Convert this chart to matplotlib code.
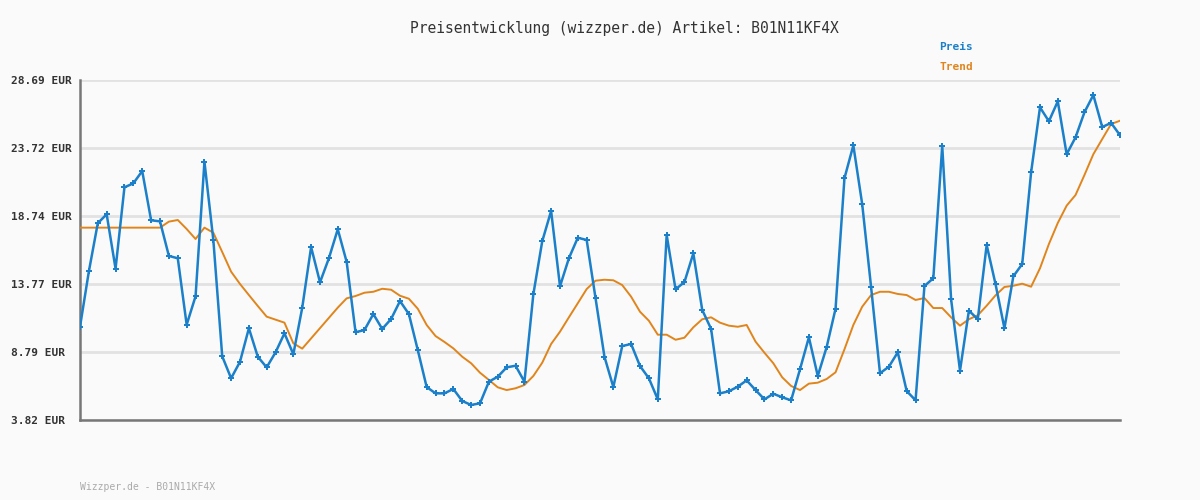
import numpy as np
import matplotlib
matplotlib.use("Agg")
import matplotlib.pyplot as plt

# price history (EUR), one value per sample
preis = [10.64, 14.70, 18.21, 18.87, 14.89, 20.84, 21.13, 22.03, 18.43, 18.35,
         15.82, 15.65, 10.79, 12.87, 22.71, 16.99, 8.48, 6.87, 8.08, 10.53,
         8.45, 7.67, 8.77, 10.16, 8.63, 12.03, 16.47, 13.89, 15.65, 17.77,
         15.38, 10.24, 10.40, 11.57, 10.48, 11.21, 12.52, 11.57, 8.94, 6.23,
         5.77, 5.77, 6.09, 5.21, 4.92, 5.04, 6.62, 6.99, 7.67, 7.79,
         6.62, 13.01, 16.89, 19.11, 13.60, 15.65, 17.15, 16.99, 12.72, 8.45,
         6.23, 9.23, 9.38, 7.77, 6.87, 5.33, 17.35, 13.38, 13.91, 16.01,
         11.87, 10.48, 5.77, 5.92, 6.26, 6.72, 6.01, 5.33, 5.74, 5.48,
         5.26, 7.53, 9.87, 7.04, 9.16, 11.96, 21.50, 23.91, 19.60, 13.53,
         7.24, 7.72, 8.77, 5.94, 5.26, 13.62, 14.19, 23.86, 12.65, 7.43,
         11.82, 11.19, 16.62, 13.75, 10.53, 14.33, 15.23, 21.94, 26.69, 25.67,
         27.13, 23.26, 24.50, 26.33, 27.59, 25.25, 25.55, 24.65]

trend = [17.89, 17.89, 17.89, 17.89, 17.89, 17.89, 17.89, 17.89, 17.89, 17.89,
         18.33, 18.45, 17.79, 17.06, 17.89, 17.52, 16.11, 14.67, 13.77, 12.96,
         12.16, 11.38, 11.16, 10.94, 9.43, 9.04, 9.79, 10.54, 11.29, 12.04,
         12.72, 12.89, 13.13, 13.20, 13.42, 13.35, 12.91, 12.69, 11.96, 10.77,
         9.96, 9.53, 9.06, 8.45, 7.97, 7.28, 6.75, 6.21, 6.01, 6.14,
         6.38, 7.04, 8.01, 9.38, 10.28, 11.33, 12.36, 13.40, 14.01, 14.08,
         14.04, 13.69, 12.84, 11.74, 11.08, 10.06, 10.06, 9.69, 9.84, 10.60,
         11.19, 11.33, 10.94, 10.72, 10.64, 10.77, 9.55, 8.74, 7.97, 6.94,
         6.31, 6.01, 6.48, 6.55, 6.82, 7.31, 8.99, 10.77, 12.11, 12.96,
         13.20, 13.20, 13.04, 12.96, 12.60, 12.74, 12.01, 12.01, 11.33, 10.72,
         11.19, 11.48, 12.18, 12.94, 13.55, 13.64, 13.79, 13.57, 14.92, 16.69,
         18.23, 19.50, 20.28, 21.74, 23.26, 24.37, 25.47, 25.71]

y_ticks = [3.82, 8.79, 13.77, 18.74, 23.72, 28.69]
artikel = "B01N11KF4X"

BG = "#fafafa"
BLUE = "#1b80c9"
ORANGE = "#e0851c"
MONO = ["DejaVu Sans Mono"]

fig = plt.figure(figsize=(12, 5), dpi=100, facecolor=BG)
ax = fig.add_axes([80 / 1200, 0.16, 1040 / 1200, 0.68], facecolor=BG)

x = np.arange(len(preis))
ax.plot(x, trend, color=ORANGE, lw=1.4, zorder=3)
ax.plot(x, preis, color=BLUE, lw=1.8, marker="P", ms=4, mew=0, zorder=4)

ax.set_xlim(0, len(preis) - 1)
ax.set_ylim(y_ticks[0], y_ticks[-1])
ax.set_xticks([])
ax.set_yticks(y_ticks)
ax.set_yticklabels([f"{v:.2f} EUR" for v in y_ticks], family=MONO,
                   fontsize=8, fontweight="bold", color="#333333")
ax.tick_params(axis="y", length=0, pad=50)
for lab in ax.get_yticklabels():
    lab.set_ha("left")

ax.grid(axis="y", color="#e2e2e2", lw=2)
ax.set_axisbelow(True)
for s in ["top", "right"]:
    ax.spines[s].set_visible(False)
for s in ["left", "bottom"]:
    ax.spines[s].set_color("#777777")
    ax.spines[s].set_linewidth(1.8)

fig.text(624 / 1200, 1 - 28 / 500, f"Preisentwicklung (wizzper.de) Artikel: {artikel}",
         family=MONO, fontsize=10.5, color="#333333", ha="center", va="center")
fig.text(939 / 1200, 1 - 47 / 500, "Preis", family=MONO, fontsize=8,
         fontweight="bold", color=BLUE, ha="left", va="center")
fig.text(939 / 1200, 1 - 67 / 500, "Trend", family=MONO, fontsize=8,
         fontweight="bold", color=ORANGE, ha="left", va="center")
fig.text(80 / 1200, 1 - 487 / 500, f"Wizzper.de - {artikel}", family=MONO,
         fontsize=7, color="#aaaaaa", ha="left", va="center")

fig.savefig("out.png", dpi=100, facecolor=BG)
